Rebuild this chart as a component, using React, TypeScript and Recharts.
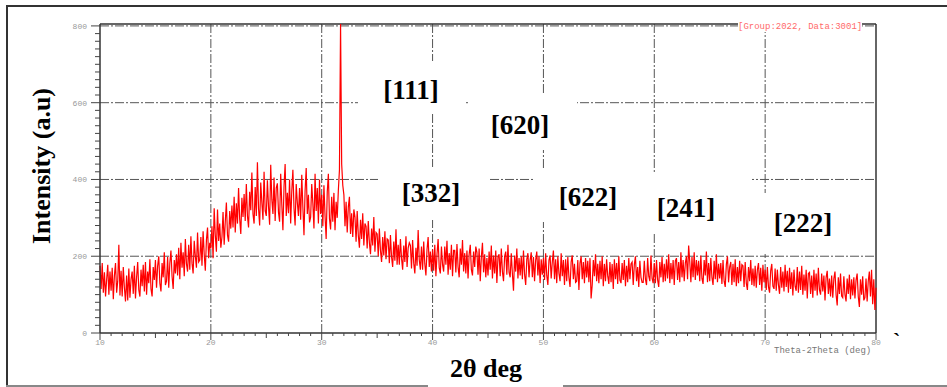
import { LineChart, Line, XAxis, YAxis, ReferenceLine } from 'recharts';

// XRD scan, 10..80 deg, 0.1 deg step
const START = 10;
const STEP = 0.1;
const intensity: number[] = [
  175, 115, 182, 105, 158, 95, 140, 178, 100, 160,
  110, 170, 88, 150, 182, 105, 135, 230, 98, 162,
  95, 172, 118, 82, 150, 85, 168, 92, 140, 160,
  102, 175, 90, 145, 185, 112, 95, 165, 122, 178,
  108, 185, 100, 160, 130, 192, 115, 95, 172, 138,
  190, 118, 175, 200, 130, 108, 182, 145, 210, 125,
  135, 198, 118, 182, 215, 148, 115, 190, 155, 205,
  150, 222, 140, 235, 170, 210, 148, 245, 180, 160,
  230, 165, 252, 182, 155, 240, 200, 170, 262, 185,
  190, 250, 175, 265, 205, 162, 242, 275, 195, 235,
  220, 278, 195, 325, 255, 212, 322, 240, 285, 222,
  250, 315, 230, 290, 340, 255, 238, 318, 272, 332,
  275, 355, 262, 338, 285, 378, 298, 258, 352, 302,
  362, 292, 388, 305, 275, 368, 320, 418, 310, 285,
  380, 305, 445, 325, 280, 392, 340, 295, 420, 318,
  305, 398, 330, 282, 438, 348, 310, 405, 292, 378,
  390, 315, 290, 415, 335, 268, 382, 440, 305, 365,
  312, 400, 285, 370, 425, 325, 280, 388, 340, 305,
  378, 295, 412, 328, 255, 370, 430, 310, 360, 288,
  302, 388, 338, 272, 415, 318, 378, 285, 400, 310,
  360, 278, 385, 305, 245, 368, 415, 298, 270, 355,
  290, 365, 268, 342, 300, 372, 425, 805, 440, 385,
  360, 278, 342, 262, 328, 355, 258, 312, 250, 322,
  302, 238, 318, 255, 222, 295, 245, 312, 228, 285,
  278, 220, 292, 235, 205, 272, 228, 302, 212, 262,
  258, 200, 272, 215, 185, 250, 202, 265, 192, 245,
  242, 182, 255, 198, 172, 238, 188, 270, 178, 230,
  178, 245, 195, 165, 228, 185, 252, 172, 222, 235,
  228, 168, 242, 182, 155, 222, 175, 268, 190, 165,
  225, 165, 238, 180, 150, 218, 250, 172, 212, 160,
  218, 162, 230, 148, 205, 245, 170, 155, 225, 178,
  160, 225, 178, 240, 152, 208, 165, 230, 148, 215,
  215, 158, 232, 172, 145, 220, 178, 242, 160, 208,
  155, 215, 142, 205, 230, 165, 150, 212, 172, 225,
  210, 152, 220, 135, 198, 235, 158, 205, 145, 195,
  150, 212, 165, 228, 142, 202, 155, 215, 130, 198,
  205, 148, 220, 160, 135, 200, 212, 152, 230, 158,
  145, 208, 155, 110, 202, 160, 220, 142, 195, 150,
  200, 140, 215, 152, 125, 192, 208, 145, 190, 210,
  145, 198, 135, 190, 212, 150, 200, 130, 192, 152,
  195, 138, 208, 150, 125, 190, 202, 142, 185, 215,
  140, 192, 130, 200, 155, 135, 208, 148, 190, 125,
  192, 135, 198, 145, 120, 185, 202, 140, 180, 132,
  135, 190, 112, 182, 200, 140, 185, 130, 195, 145,
  188, 132, 195, 90, 125, 190, 148, 205, 135, 180,
  130, 188, 140, 200, 122, 180, 135, 192, 148, 128,
  185, 132, 180, 115, 192, 140, 182, 128, 200, 138,
  130, 182, 138, 190, 122, 175, 132, 195, 140, 180,
  185, 125, 178, 200, 135, 172, 120, 188, 145, 132,
  132, 188, 140, 125, 195, 148, 135, 202, 142, 130,
  182, 130, 190, 138, 120, 185, 145, 198, 132, 180,
  135, 192, 142, 205, 130, 182, 140, 190, 125, 188,
  195, 138, 185, 132, 210, 145, 190, 135, 182, 200,
  140, 228, 185, 132, 198, 145, 210, 138, 190, 150,
  188, 135, 202, 142, 128, 190, 150, 212, 132, 182,
  135, 195, 145, 125, 188, 140, 205, 132, 180, 142,
  182, 128, 190, 135, 120, 178, 200, 132, 172, 185,
  125, 180, 132, 192, 122, 172, 130, 188, 135, 178,
  175, 120, 185, 130, 112, 172, 135, 190, 125, 168,
  122, 175, 118, 165, 182, 125, 170, 110, 178, 132,
  165, 112, 172, 120, 105, 162, 180, 122, 115, 168,
  110, 165, 125, 102, 172, 118, 160, 108, 178, 120,
  162, 105, 170, 115, 158, 98, 165, 122, 110, 172,
  105, 160, 112, 175, 100, 152, 110, 165, 90, 155,
  158, 102, 150, 92, 165, 110, 155, 98, 170, 112,
  100, 155, 108, 150, 85, 145, 162, 102, 142, 95,
  150, 92, 142, 160, 100, 72, 145, 102, 155, 96,
  92, 148, 100, 82, 142, 102, 152, 88, 140, 98,
  145, 90, 138, 155, 95, 68, 140, 100, 148, 85,
  92, 142, 82, 135, 160, 95, 165, 75, 140, 60,
  118,
];

const xGrid = [20, 30, 40, 50, 60, 70];
const yGrid = [200, 400, 600, 800];
const xTicks = Array.from({ length: 71 }, (_, i) => 10 + i);
const yTicks = Array.from({ length: 41 }, (_, i) => i * 20);

const peakLabels = [
  { text: '[111]', x: 411, y: 90, box: [358, 61, 108, 53] },
  { text: '[620]', x: 520, y: 125, box: [468, 95, 109, 55] },
  { text: '[332]', x: 431, y: 193, box: [378, 167, 110, 53] },
  { text: '[622]', x: 588, y: 197, box: [535, 168, 105, 54] },
  { text: '[241]', x: 686, y: 208, box: [640, 172, 112, 60] },
  { text: '[222]', x: 803, y: 223, box: [752, 193, 108, 61] },
];

const data = intensity.map((v, i) => ({ t: +(START + i * STEP).toFixed(1), v }));

const tickFont = '"Liberation Mono", monospace';
const serif = '"Liberation Serif", "Times New Roman", serif';

function XTick(props: any) {
  const { x, y, payload } = props;
  const v = payload.value;
  const major = v % 10 === 0;
  const len = major ? 7 : v % 5 === 0 ? 5 : 3;
  return (
    <g>
      <line x1={x} x2={x} y1={y} y2={y + len} stroke="#444" strokeWidth={1} />
      {major && (
        <text x={x} y={y + 12} textAnchor="middle" fontSize={8} fill="#999" fontFamily={tickFont}>
          {v}
        </text>
      )}
    </g>
  );
}

function YTick(props: any) {
  const { x, y, payload } = props;
  const v = payload.value;
  const major = v % 200 === 0;
  const len = major ? 9 : 5;
  return (
    <g>
      <line x1={x - len} x2={x} y1={y} y2={y} stroke="#444" strokeWidth={1} />
      {major && (
        <text x={x - 13} y={y + 3} textAnchor="end" fontSize={8} fill="#999" fontFamily={tickFont}>
          {v}
        </text>
      )}
    </g>
  );
}

export default function App() {
  return (
    <div style={{ position: 'absolute', left: 0, top: 0, width: 947, height: 387, background: '#fff', overflow: 'hidden' }}>
      <LineChart width={947} height={387} data={data} margin={{ top: 24, right: 71, bottom: 34, left: 70 }}>
        {xGrid.map((g) => (
          <ReferenceLine key={'x' + g} x={g} stroke="#555" strokeDasharray="9 2 2 2" />
        ))}
        {yGrid.map((g) => (
          <ReferenceLine key={'y' + g} y={g} stroke="#555" strokeDasharray="9 2 2 2" />
        ))}
        <ReferenceLine x={80} stroke="#333" strokeWidth={1.5} />
        <ReferenceLine y={805} stroke="#333" strokeWidth={1.5} />
        <XAxis
          dataKey="t"
          type="number"
          domain={[10, 80]}
          ticks={xTicks}
          interval={0}
          height={20}
          tickSize={0}
          tickMargin={0}
          tickLine={false}
          tick={XTick}
          axisLine={{ stroke: '#333', strokeWidth: 1.5 }}
        />
        <YAxis
          type="number"
          domain={[0, 805]}
          allowDataOverflow
          ticks={yTicks}
          interval={0}
          width={30}
          tickSize={0}
          tickMargin={0}
          tickLine={false}
          tick={YTick}
          axisLine={{ stroke: '#333', strokeWidth: 1.5 }}
        />
        <Line type="linear" dataKey="v" stroke="#ff0000" strokeWidth={1.2} dot={false} isAnimationActive={false} />
      </LineChart>

      {/* outer frame of the figure */}
      <div style={{ position: 'absolute', left: 6, top: 5, width: 2, height: 382, background: '#333' }} />
      <div style={{ position: 'absolute', left: 6, top: 5, width: 941, height: 2, background: '#333' }} />
      <div style={{ position: 'absolute', left: 6, top: 385, width: 941, height: 1.5, background: '#888' }} />

      {peakLabels.map((p) => (
        <div key={'b' + p.text} style={{ position: 'absolute', left: p.box[0], top: p.box[1], width: p.box[2], height: p.box[3], background: '#fff' }} />
      ))}
      {peakLabels.map((p) => (
        <div
          key={p.text}
          style={{ position: 'absolute', left: p.x, top: p.y, transform: 'translate(-50%, -50%)', fontFamily: serif, fontWeight: 700, fontSize: 27, lineHeight: 1, whiteSpace: 'nowrap', color: '#000' }}
        >
          {p.text}
        </div>
      ))}

      <div style={{ position: 'absolute', left: 738, top: 23, fontFamily: tickFont, fontSize: 9, color: '#ff6a6a', whiteSpace: 'nowrap', background: '#fff', lineHeight: 1 }}>
        [Group:2022, Data:3001]
      </div>
      <div style={{ position: 'absolute', left: 774, top: 347, fontFamily: tickFont, fontSize: 9, color: '#777', whiteSpace: 'nowrap', lineHeight: 1 }}>
        Theta-2Theta (deg)
      </div>
      <div style={{ position: 'absolute', left: 893, top: 330, fontFamily: serif, fontWeight: 700, fontSize: 22, lineHeight: 1 }}>`</div>

      <div
        style={{ position: 'absolute', left: 42, top: 166, transform: 'translate(-50%, -50%) rotate(-90deg)', fontFamily: serif, fontWeight: 700, fontSize: 26, whiteSpace: 'nowrap', lineHeight: 1 }}
      >
        Intensity (a.u)
      </div>
      <div style={{ position: 'absolute', left: 428, top: 352, width: 135, height: 40, background: '#fff' }} />
      <div style={{ position: 'absolute', left: 486, top: 377, transform: 'translate(-50%, -80%)', fontFamily: serif, fontWeight: 700, fontSize: 26, whiteSpace: 'nowrap', lineHeight: 1 }}>
        2θ deg
      </div>
    </div>
  );
}
